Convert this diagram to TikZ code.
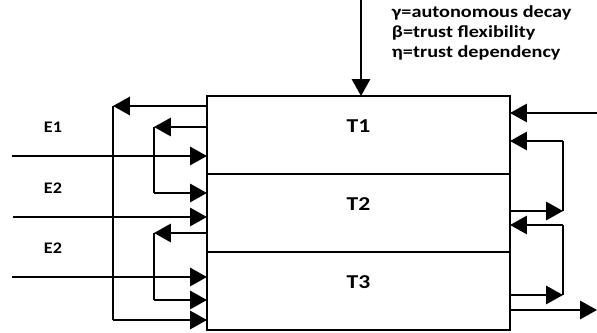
\documentclass[tikz,border=0pt]{standalone}
\usepackage{fontspec}
\setmainfont{Carlito}
\usetikzlibrary{arrows.meta}

\begin{document}
\begin{tikzpicture}[x=0.025cm,y=-0.025cm,
    flow/.style={line width=1.4pt,-{Triangle[length=12pt,width=13pt]}},
    wire/.style={line width=1.4pt},
    row/.style={draw,line width=1.4pt,minimum width=7.575cm,minimum height=1.95cm,outer sep=0pt,inner sep=0pt},
    tlab/.style={font=\bfseries\fontsize{14}{16}\selectfont,xscale=1.2,yshift=6.4pt},
    elab/.style={font=\bfseries\fontsize{11.5}{13}\selectfont,xscale=1.12}]
    \useasboundingbox (0,0) rectangle (597,333);
    % the three stacked rows
    \node[row] (t1) at (358.5,135) {};
    \node[row] (t2) at (358.5,213) {};
    \node[row] (t3) at (358.5,291) {};
    \node[tlab] (t1lab) at (t1.center) {T1};
    \node[tlab] (t2lab) at (t2.center) {T2};
    \node[tlab] (t3lab) at (t3.center) {T3};
    % legend and top input
    \node[anchor=west,align=left,xscale=1.2,font=\bfseries\fontsize{12}{14.2}\selectfont] (legend) at (386,33)
        {γ=autonomous decay\\β=trust flexibility\\η=trust dependency};
    \coordinate (top) at (361,0);
    \draw[flow] (top) -- (t1.north -| top);
    % left side: external inputs
    \coordinate (e1) at (12,156);
    \coordinate (e2) at (13,217);
    \coordinate (e3) at (12,277);
    \draw[flow] (e1) -- (t1.west |- e1);
    \draw[flow] (e2) -- (t2.west |- e2);
    \draw[flow] (e3) -- (t3.west |- e3);
    \node[elab] (e1lab) at (53,127) {E1};
    \node[elab] (e2lab) at (53,188) {E2};
    \node[elab] (e3lab) at (53,248) {E2};
    % left side: feedback loops
    \coordinate (a1) at (113,106);
    \coordinate (a2) at (113,320);
    \draw[flow] (t1.west |- a1) -- (a1);
    \draw[wire] (a1) -- (a2);
    \draw[flow] (a2) -- (t3.west |- a2);
    \coordinate (b1) at (154,127);
    \coordinate (b2) at (154,193);
    \draw[flow] (t1.west |- b1) -- (b1);
    \draw[wire] (b1) -- (b2);
    \draw[flow] (b2) -- (t2.west |- b2);
    \coordinate (c1) at (154,233);
    \coordinate (c2) at (154,300);
    \draw[flow] (t2.west |- c1) -- (c1);
    \draw[wire] (c1) -- (c2);
    \draw[flow] (c2) -- (t3.west |- c2);
    % right side
    \coordinate (r0) at (597,113);
    \draw[flow] (r0) -- (t1.east |- r0);
    \coordinate (d1) at (563,211);
    \coordinate (d2) at (563,141);
    \draw[flow] (t2.east |- d1) -- (d1);
    \draw[wire] (d1) -- (d2);
    \draw[flow] (d2) -- (t1.east |- d2);
    \coordinate (f1) at (563,295);
    \coordinate (f2) at (563,225);
    \draw[flow] (t3.east |- f1) -- (f1);
    \draw[wire] (f1) -- (f2);
    \draw[flow] (f2) -- (t2.east |- f2);
    \coordinate (out) at (597,310);
    \draw[flow] (t3.east |- out) -- (out);
\end{tikzpicture}
\end{document}
